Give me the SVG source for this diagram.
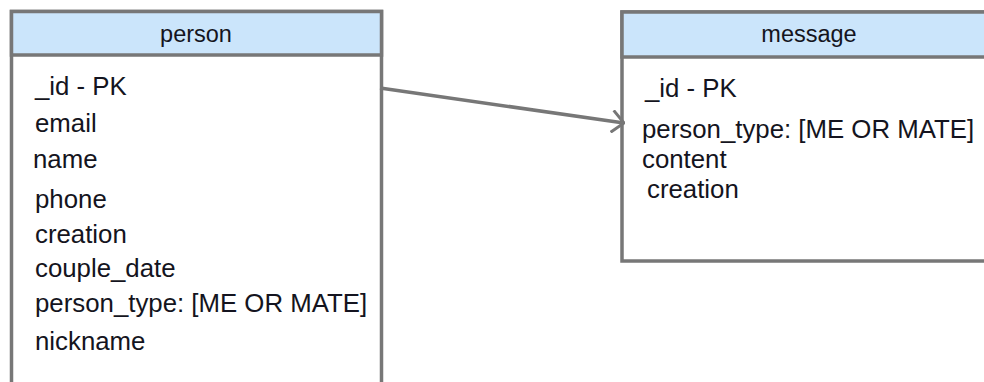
<svg xmlns="http://www.w3.org/2000/svg" width="984" height="382" viewBox="0 0 984 382">
<style>
.box{fill:#ffffff;stroke:#777777;stroke-width:3.5}
.hdr{fill:#cbe5fb;stroke:#777777;stroke-width:3.5}
.t{font-family:"Liberation Sans",Arial,sans-serif;fill:#141420}
.h{font-size:23.5px;text-anchor:middle}
.r{font-size:25.8px}
.conn{fill:none;stroke:#777777;stroke-width:3.5}
</style>
<defs>
<marker id="open" viewBox="0 0 14 24" refX="13" refY="12" markerWidth="14" markerHeight="24" markerUnits="userSpaceOnUse" orient="auto">
<path d="M1,1 L13,12 L1,23" fill="none" stroke="#777777" stroke-width="3"/>
</marker>
</defs>
<g id="person">
<rect class="box" x="11.5" y="11.5" width="370" height="400"/>
<rect class="hdr" x="11.5" y="11.5" width="370" height="43.5"/>
<text class="t h" x="196" y="41.5">person</text>
<text class="t r" x="35" y="95">_id - PK</text>
<text class="t r" x="35" y="132">email</text>
<text class="t r" x="33" y="168">name</text>
<text class="t r" x="35" y="208">phone</text>
<text class="t r" x="35" y="243">creation</text>
<text class="t r" x="35" y="277">couple_date</text>
<text class="t r" x="35" y="312">person_type: [ME OR MATE]</text>
<text class="t r" x="35" y="350">nickname</text>
</g>
<g id="message">
<rect class="box" x="622" y="12" width="380" height="249"/>
<rect class="hdr" x="622" y="12" width="380" height="45"/>
<text class="t h" x="809" y="42">message</text>
<text class="t r" x="645" y="97">_id - PK</text>
<text class="t r" x="642" y="138">person_type: [ME OR MATE]</text>
<text class="t r" x="642" y="168">content</text>
<text class="t r" x="647" y="198">creation</text>
</g>
<g id="connectors">
<path class="conn" d="M380,88 L624,123" marker-end="url(#open)"/>
</g>
</svg>
